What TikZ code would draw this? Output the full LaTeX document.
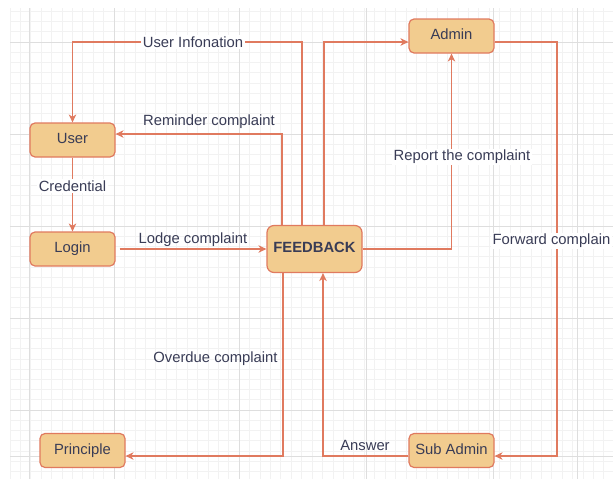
\documentclass[tikz,border=0pt]{standalone}
\usepackage{fontspec}
\setmainfont{Liberation Sans}
\usetikzlibrary{arrows.meta}

\definecolor{sandfill}{HTML}{F2CC8F}
\definecolor{sandline}{HTML}{E07A5F}
\definecolor{sandtext}{HTML}{393C56}
\newcommand{\dfont}{\fontsize{14.8}{17}\selectfont}

\tikzset{
  dbox/.style={draw=sandline,fill=sandfill,line width=1.2pt,rounded corners=5pt,
    minimum width=85pt,minimum height=34pt,inner sep=0pt,text=sandtext,font=\dfont,
    text height=0.72em,text depth=0pt},
  flow/.style={draw=sandline,line width=1.2pt,-{Stealth[length=8pt,width=7.5pt,inset=2.5pt]}},
  tag/.style={text=sandtext,font=\dfont,inner sep=1.5pt},
  ontag/.style={tag,fill=white},
}

\begin{document}
\begin{tikzpicture}[x=1pt,y=-1pt,line cap=butt]
  \useasboundingbox[fill=white] (0,0) rectangle (613,479);
  % grid
  \foreach \gx in {9.8,20.22,...,613} { \draw[black!5,line width=0.5pt] (\gx,8) -- (\gx,479); }
  \foreach \gy in {11.3,21.52,...,479} { \draw[black!5,line width=0.5pt] (10,\gy) -- (613,\gy); }
  \foreach \gx in {29,114,239,366,493,577} { \draw[black!13,line width=0.8pt] (\gx,8) -- (\gx,479); }
  \foreach \gy in {42,134,226,318,410,456} { \draw[black!13,line width=0.8pt] (10,\gy) -- (613,\gy); }

  \node[dbox] (user) at (72.5,140) {User};
  \node[dbox] (login) at (72.5,249) {Login};
  \node[dbox,minimum width=95pt,minimum height=47pt,rounded corners=7pt,font=\dfont\bfseries] (fb) at (314.5,249) {FEEDBACK};
  \node[dbox] (admin) at (451.5,36) {Admin};
  \node[dbox] (principle) at (82.5,450.5) {Principle};
  \node[dbox] (subadmin) at (451.5,450.5) {Sub Admin};
  \coordinate (fwdmid) at (557,241);

  \draw[flow] ([xshift=-12.5pt]fb.north) |- (72.5,42) -- (user.north);
  \draw[flow] ([xshift=-32.5pt]fb.north) |- ([yshift=6pt]user.east);
  \draw[flow] (user.south) -- (login.north);
  \draw[flow] ([xshift=4pt]login.east) -- (fb.west);
  \draw[flow] ([xshift=9.5pt]fb.north) |- ([yshift=-6pt]admin.west);
  \draw[flow] (fb.east) -| (admin.south);
  \draw[flow] ([yshift=-6pt]admin.east) -| (fwdmid) |- ([yshift=-5.5pt]subadmin.east);
  \draw[flow] ([yshift=-5.5pt]subadmin.west) -| ([xshift=8.5pt]fb.south);
  \draw[flow] ([xshift=-31.5pt]fb.south) |- ([yshift=-5.5pt]principle.east);

  \node[ontag] (infotag) at (193,42) {User Infonation};
  \node[tag] (remindtag) at (209,122) {Reminder complaint};
  \node[ontag] (credtag) at (72.5,186) {Credential};
  \node[tag] (lodgetag) at (193,240) {Lodge complaint};
  \node[ontag] (reporttag) at (462,157) {Report the complaint};
  \node[ontag,anchor=east] (fwdtag) at (612,241) {Forward complain};
  \node[tag] (answertag) at (365,445) {Answer};
  \node[tag] (overduetag) at (215.5,359) {Overdue complaint};
\end{tikzpicture}
\end{document}
